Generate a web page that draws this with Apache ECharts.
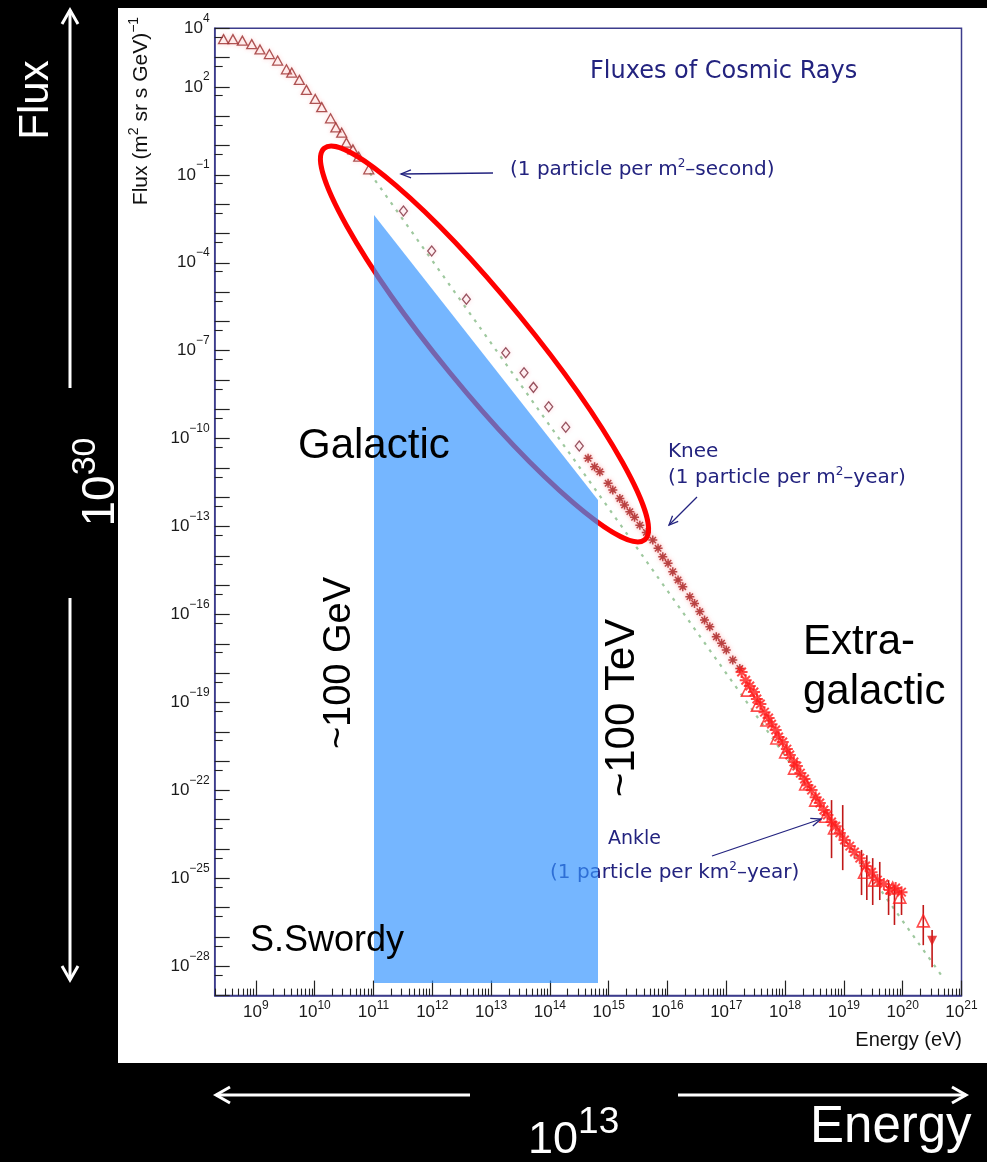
<!DOCTYPE html>
<html>
<head>
<meta charset="utf-8">
<script src="https://cdn.jsdelivr.net/npm/echarts@6/dist/echarts.min.js"></script>
<style>
html,body{margin:0;padding:0;background:#000;}
#c{width:987px;height:1162px;}
</style>
</head>
<body>
<div id="c"></div>
<script>
// ---------------- data (log10 of energy in eV, log10 of flux) ----------------
const triLogE     = [8.45,8.61,8.77,8.93,9.07,9.23,9.37,9.52,9.61,9.74,9.86,10.01,10.12,10.27,10.36,10.46,10.54,10.65,10.75,10.92];
const triLogFlux  = [3.63,3.63,3.58,3.46,3.28,3.12,2.90,2.60,2.49,2.24,1.90,1.59,1.31,0.93,0.62,0.44,0.10,-0.13,-0.38,-0.81];

const diaLogE     = [11.51,11.99,12.58,13.25,13.56,13.72,13.98,14.27,14.50];
const diaLogFlux  = [-2.23,-3.60,-5.24,-7.07,-7.75,-8.25,-8.91,-9.61,-10.25];

const kneeLogE    = [14.65,14.76,14.85,14.99,15.07,15.19,15.27,15.36,15.44,15.53,15.64,15.75,15.84,15.92,16.01,16.09,16.18,16.26,16.38,16.46,16.55,16.63,16.72,16.83,16.92,17.00,17.11,17.23];
const kneeLogFlux = [-10.67,-10.96,-11.13,-11.52,-11.75,-12.04,-12.26,-12.49,-12.68,-12.95,-13.20,-13.46,-13.74,-14.03,-14.25,-14.54,-14.82,-15.05,-15.39,-15.62,-15.90,-16.19,-16.42,-16.76,-16.98,-17.21,-17.55,-17.84];

const uheStarLogE    = [17.26,17.33,17.40,17.47,17.52,17.58,17.65,17.72,17.77,17.84,17.89,17.96,18.03,18.08,18.15,18.20,18.26,18.33,18.38,18.45,18.52,18.59,18.66,18.72,18.79,18.86,18.93,19.01,19.10,19.18,19.27,19.37,19.47,19.57,19.68,19.78,19.88,19.98];
const uheStarLogFlux = [-17.96,-18.24,-18.44,-18.64,-18.88,-19.05,-19.33,-19.53,-19.74,-19.94,-20.18,-20.35,-20.59,-20.79,-21.03,-21.17,-21.41,-21.61,-21.82,-21.99,-22.23,-22.43,-22.67,-22.84,-23.08,-23.22,-23.45,-23.69,-23.90,-24.10,-24.31,-24.58,-24.79,-25.06,-25.19,-25.40,-25.33,-25.47];

const uheTriLogE    = [17.36,17.53,17.69,17.86,18.01,18.16,18.35,18.52,18.69,18.84,19.35,19.52,19.83,19.95,20.35];
const uheTriLogFlux = [-18.58,-19.09,-19.60,-20.21,-20.69,-21.24,-21.78,-22.33,-22.88,-23.28,-24.79,-25.06,-25.33,-25.64,-26.45];

const limitLogE    = [20.50];
const limitLogFlux = [-27.13];

const errLogE  = [18.79,18.98,19.30,19.39,19.49,19.61,19.76,19.86,19.98,20.35,20.50];
const errLow   = [-24.31,-24.72,-25.57,-25.74,-25.91,-25.74,-26.25,-26.59,-26.25,-27.28,-28.03];
const errHigh  = [-22.33,-22.50,-24.03,-24.21,-24.31,-24.44,-25.06,-25.23,-25.40,-25.91,-26.76];

const refLogE    = [10.94, 20.68];
const refLogFlux = [-0.94, -28.37];

// ---------------- axis ticks / labels (exponents) ----------------
const xRange = [8.3, 21];
const yRange = [-29, 4];
const xLabelExp = [9,10,11,12,13,14,15,16,17,18,19,20,21];
const yLabelExp = [4,2,-1,-4,-7,-10,-13,-16,-19,-22,-25,-28];
const yMajorExp = [];
for (let n = 4; n >= -29; n--) yMajorExp.push(n);
const yMinorExp = [];
for (let n = 4; n >= -28; n--) yMinorExp.push(n - 0.3);
const xMinorExp = [];
for (let n = 8; n <= 20; n++) for (let k = 2; k <= 9; k++) {
  const v = n + Math.log10(k);
  if (v > xRange[0] && v < xRange[1]) xMinorExp.push(v);
}

const zip = (a, b) => a.map((v, i) => [v, b[i]]);
const supTxt = v => (v < 0 ? '\u2212' + (-v) : '' + v);

const ASTER = 'path://M-1,-6L1,-6L1,6L-1,6Z M-6,-1L6,-1L6,1L-6,1Z M-3.54,-4.95L4.95,3.54L3.54,4.95L-4.95,-3.54Z M3.54,-4.95L4.95,-3.54L-3.54,4.95L-4.95,3.54Z';

const NAVY = '#23237f';
const AXIS = '#3c3c8c';
const FONT = '"Liberation Sans", Arial, sans-serif';
const RFONT = '"DejaVu Sans", sans-serif';

function arrowEls(x1, y1, x2, y2, color, lw, hl, hw, z) {
  const a = Math.atan2(y2 - y1, x2 - x1);
  const bx = x2 - hl * Math.cos(a), by = y2 - hl * Math.sin(a);
  const px = -Math.sin(a) * hw, py = Math.cos(a) * hw;
  return [
    {type: 'line', z, shape: {x1, y1, x2, y2}, style: {stroke: color, lineWidth: lw}},
    {type: 'polyline', z, shape: {points: [[bx + px, by + py], [x2, y2], [bx - px, by - py]]}, style: {stroke: color, lineWidth: lw, fill: null}}
  ];
}
// rich token style helper for graphic texts (zrender uses "fill")
function tok(size, family, color, pad) {
  const t = {fontSize: size, fontFamily: family, fill: color, verticalAlign: 'middle'};
  if (pad) t.padding = [0, 0, pad, 0];
  return t;
}

const chart = echarts.init(document.getElementById('c'), null, {renderer: 'canvas'});

const baseAxis = {
  type: 'value',
  splitLine: {show: false},
  axisLine: {onZero: false}
};

const option = {
  backgroundColor: '#000',
  animation: false,
  grid: {left: 214.7, right: 25.5, top: 28.3, bottom: 166.4, show: true, borderColor: AXIS, borderWidth: 1.5, backgroundColor: 'transparent', containLabel: false, outerBoundsMode: 'none'},
  xAxis: [
    Object.assign({}, baseAxis, {
      position: 'bottom', min: xRange[0], max: xRange[1],
      axisLine: {show: true, onZero: false, lineStyle: {color: AXIS, width: 1.5}},
      axisTick: {show: true, inside: true, length: 15, customValues: xLabelExp, lineStyle: {color: '#222', width: 1.2}},
      axisLabel: {show: true, margin: 4, customValues: xLabelExp,
        formatter: v => '{b|10}{s|' + supTxt(Math.round(v)) + '}',
        rich: {
          b: {fontSize: 17, fontFamily: FONT, color: '#1a1a1a', verticalAlign: 'middle'},
          s: {fontSize: 12, fontFamily: FONT, color: '#1a1a1a', verticalAlign: 'middle', padding: [0, 0, 14, 0]}
        }}
    }),
    Object.assign({}, baseAxis, {
      position: 'bottom', min: xRange[0], max: xRange[1],
      axisLine: {show: false, onZero: false},
      axisTick: {show: true, inside: true, length: 7, customValues: xMinorExp, lineStyle: {color: '#222', width: 1.1}},
      axisLabel: {show: false}
    })
  ],
  yAxis: [
    Object.assign({}, baseAxis, {
      position: 'left', min: yRange[0], max: yRange[1],
      axisLine: {show: true, onZero: false, lineStyle: {color: AXIS, width: 1.5}},
      axisTick: {show: true, inside: true, length: 15, customValues: yMajorExp, lineStyle: {color: '#222', width: 1.2}},
      axisLabel: {show: true, margin: 5, customValues: yLabelExp,
        formatter: v => '{b|10}{s|' + supTxt(Math.round(v)) + '}',
        rich: {
          b: {fontSize: 17, fontFamily: FONT, color: '#1a1a1a', verticalAlign: 'middle'},
          s: {fontSize: 12, fontFamily: FONT, color: '#1a1a1a', verticalAlign: 'middle', padding: [0, 0, 20, 0]}
        }}
    }),
    Object.assign({}, baseAxis, {
      position: 'left', min: yRange[0], max: yRange[1],
      axisLine: {show: false, onZero: false},
      axisTick: {show: true, inside: true, length: 8, customValues: yMinorExp, lineStyle: {color: '#222', width: 1.1}},
      axisLabel: {show: false}
    })
  ],
  series: [
    {
      name: 'reference', type: 'line', data: zip(refLogE, refLogFlux), showSymbol: false, z: 1,
      lineStyle: {type: [3, 6], color: '#9ec89e', width: 2.2}
    },
    {
      name: 'low-energy', type: 'scatter', data: zip(triLogE, triLogFlux), symbol: 'triangle', symbolSize: [10, 9],
      itemStyle: {color: 'rgba(255,255,255,0)', borderColor: '#9a2a2a', borderWidth: 1.3, shadowBlur: 4, shadowColor: 'rgba(255,140,140,0.6)'}
    },
    {
      name: 'direct', type: 'scatter', data: zip(diaLogE, diaLogFlux), symbol: 'diamond', symbolSize: [8, 10],
      itemStyle: {color: 'rgba(255,255,255,0)', borderColor: '#7e2a3a', borderWidth: 1.3, shadowBlur: 4, shadowColor: 'rgba(255,140,160,0.6)'}
    },
    {
      name: 'knee', type: 'scatter', data: zip(kneeLogE, kneeLogFlux), symbol: ASTER, symbolSize: 9,
      itemStyle: {color: '#a82020', shadowBlur: 4, shadowColor: 'rgba(255,100,100,0.7)'}
    },
    {
      name: 'errors', type: 'custom', z: 2,
      data: errLogE.map((e, i) => [e, errLow[i], errHigh[i]]),
      renderItem: (params, api) => {
        const p1 = api.coord([api.value(0), api.value(1)]);
        const p2 = api.coord([api.value(0), api.value(2)]);
        return {type: 'line', shape: {x1: p1[0], y1: p1[1], x2: p2[0], y2: p2[1]}, style: {stroke: '#c01818', lineWidth: 1.6}};
      }
    },
    {
      name: 'uhe-stars', type: 'scatter', data: zip(uheStarLogE, uheStarLogFlux), symbol: ASTER, symbolSize: 12,
      itemStyle: {color: '#ff1a1a'}
    },
    {
      name: 'uhe-triangles', type: 'scatter', data: zip(uheTriLogE, uheTriLogFlux), symbol: 'triangle', symbolSize: [12, 12],
      itemStyle: {color: 'rgba(255,255,255,0)', borderColor: '#ff2020', borderWidth: 1.6}
    },
    {
      name: 'limit', type: 'scatter', data: zip(limitLogE, limitLogFlux), symbol: 'triangle', symbolRotate: 180, symbolSize: [10, 10],
      itemStyle: {color: '#e01818'}
    }
  ],
  graphic: [
    // white plotting panel
    {type: 'rect', z: -100, shape: {x: 118, y: 8, width: 869, height: 1055}, style: {fill: '#fff'}},
    // frame titles
    {type: 'text', z: 10, x: 590, y: 72, style: {text: 'Fluxes of Cosmic Rays', font: '24px ' + RFONT, fill: NAVY, align: 'left', verticalAlign: 'middle'}},
    {type: 'text', z: 10, x: 141, y: 111, rotation: Math.PI / 2, style: {
      text: '{a|Flux (m}{s|2}{a| sr s GeV)}{s|\u22121}', align: 'center', verticalAlign: 'middle',
      rich: {a: tok(21, FONT, '#111'), s: tok(14, FONT, '#111', 14)}}},
    {type: 'text', z: 10, x: 962, y: 1040, style: {text: 'Energy (eV)', font: '20px ' + FONT, fill: '#111', align: 'right', verticalAlign: 'middle'}},
    // annotations
    {type: 'text', z: 10, x: 510, y: 170, style: {
      text: '{a|(1 particle per m}{s|2}{a|\u2013second)}', align: 'left', verticalAlign: 'middle',
      rich: {a: tok(20, RFONT, NAVY), s: tok(12, RFONT, NAVY, 12)}}},
    ...arrowEls(493, 173, 401, 174, NAVY, 1.3, 10, 4, 10),
    {type: 'text', z: 10, x: 668, y: 452, style: {text: 'Knee', font: '20px ' + RFONT, fill: NAVY, align: 'left', verticalAlign: 'middle'}},
    {type: 'text', z: 10, x: 668, y: 478, style: {
      text: '{a|(1 particle per m}{s|2}{a|\u2013year)}', align: 'left', verticalAlign: 'middle',
      rich: {a: tok(20, RFONT, NAVY), s: tok(12, RFONT, NAVY, 12)}}},
    ...arrowEls(697, 497, 669, 525, NAVY, 1.3, 9, 4, 10),
    {type: 'text', z: 10, x: 608, y: 839, style: {text: 'Ankle', font: '19px ' + RFONT, fill: NAVY, align: 'left', verticalAlign: 'middle'}},
    {type: 'text', z: 10, x: 550, y: 873, style: {
      text: '{a|(1 particle per km}{s|2}{a|\u2013year)}', align: 'left', verticalAlign: 'middle',
      rich: {a: tok(20, RFONT, NAVY), s: tok(12, RFONT, NAVY, 12)}}},
    ...arrowEls(712, 856, 821, 819, NAVY, 1.3, 10, 4, 10),
    // slide overlays
    {type: 'ellipse', z: 50, x: 484.5, y: 344, rotation: -0.885, shape: {cx: 0, cy: 0, rx: 253, ry: 45}, style: {fill: null, stroke: '#ff0000', lineWidth: 5}},
    {type: 'polygon', z: 60, shape: {points: [[374, 215], [598, 500], [598, 983], [374, 983]]}, style: {fill: 'rgba(52,148,255,0.68)'}},
    {type: 'text', z: 70, x: 298, y: 446, style: {text: 'Galactic', font: '42px ' + FONT, fill: '#000', align: 'left', verticalAlign: 'middle'}},
    {type: 'text', z: 70, x: 340, y: 663, rotation: Math.PI / 2, style: {text: '~100 GeV', font: '38px ' + FONT, fill: '#000', align: 'center', verticalAlign: 'middle'}},
    {type: 'text', z: 70, x: 622, y: 708, rotation: Math.PI / 2, style: {text: '~100 TeV', font: '42px ' + FONT, fill: '#000', align: 'center', verticalAlign: 'middle'}},
    {type: 'text', z: 70, x: 803, y: 642, style: {text: 'Extra-', font: '42px ' + FONT, fill: '#000', align: 'left', verticalAlign: 'middle'}},
    {type: 'text', z: 70, x: 803, y: 692, style: {text: 'galactic', font: '42px ' + FONT, fill: '#000', align: 'left', verticalAlign: 'middle'}},
    {type: 'text', z: 70, x: 250, y: 941, style: {text: 'S.Swordy', font: '36px ' + FONT, fill: '#000', align: 'left', verticalAlign: 'middle'}},
    // outside (black) region
    {type: 'text', z: 70, x: 36, y: 100, rotation: Math.PI / 2, style: {text: 'Flux', font: '42px ' + FONT, fill: '#fff', align: 'center', verticalAlign: 'middle'}},
    {type: 'text', z: 70, x: 101, y: 482, rotation: Math.PI / 2, style: {
      text: '{b|10}{s|30}', align: 'center', verticalAlign: 'middle',
      rich: {b: tok(46, FONT, '#fff'), s: tok(34, FONT, '#fff', 30)}}},
    ...arrowEls(70, 388, 70, 10, '#fff', 3, 14, 8, 70),
    ...arrowEls(70, 598, 70, 980, '#fff', 3, 14, 8, 70),
    ...arrowEls(470, 1095, 216, 1095, '#fff', 3, 14, 8, 70),
    ...arrowEls(678, 1095, 966, 1095, '#fff', 3, 14, 8, 70),
    {type: 'text', z: 70, x: 528, y: 1141, style: {
      text: '{b|10}{s|13}', align: 'left', verticalAlign: 'middle',
      rich: {b: tok(45, FONT, '#fff'), s: tok(37, FONT, '#fff', 36)}}},
    {type: 'text', z: 70, x: 810, y: 1128, style: {text: 'Energy', font: '51px ' + FONT, fill: '#fff', align: 'left', verticalAlign: 'middle'}}
  ]
};

chart.setOption(option);
</script>
</body>
</html>
